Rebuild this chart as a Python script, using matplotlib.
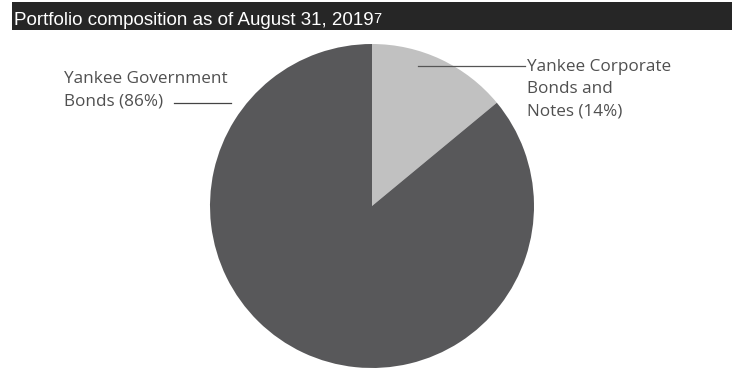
import matplotlib
matplotlib.use("Agg")
import matplotlib.pyplot as plt

title = "Portfolio composition as of August 31, 2019"
footnote = "7"
labels = ["Yankee Corporate\nBonds and\nNotes (14%)", "Yankee Government\nBonds (86%)"]
values = [14, 86]
colors = ["#c1c1c1", "#58585a"]

W, H = 732, 370
fig = plt.figure(figsize=(W / 100, H / 100), dpi=100)
fig.patch.set_facecolor("white")

# title bar
bar = fig.add_axes([12 / W, 1 - 30 / H, 1 - 12 / W, 28 / H])
bar.set_facecolor("#262626")
bar.set_xticks([]); bar.set_yticks([])
for s in bar.spines.values():
    s.set_visible(False)
t = fig.text(13.5 / W, 1 - 25 / H, title, color="white", fontsize=13.5, family="Liberation Sans",
             va="baseline", ha="left")
fig.canvas.draw()
bb = t.get_window_extent()
fig.text(bb.x1 / W + 0.5 / W, 1 - 23 / H, footnote, color="white", fontsize=10.5,
         family="Liberation Sans", va="baseline", ha="left")

# pie
cx, cy, r = 372, 206, 162
ax = fig.add_axes([(cx - r) / W, (H - cy - r) / H, 2 * r / W, 2 * r / H])
ax.pie(values, colors=colors, startangle=90, counterclock=False, radius=1,
       wedgeprops=dict(linewidth=0))
ax.set_xlim(-1, 1); ax.set_ylim(-1, 1)
ax.set_aspect("equal")
ax.axis("off")

def px(x, y):
    return x / W, 1 - y / H

lab_kw = dict(color="#505050", fontsize=12.3, family="Open Sans")
# right label
fig.text(*px(527, 59), labels[0], va="top", ha="left", linespacing=1.5, **lab_kw)
fig.add_artist(plt.Line2D([418 / W, 525 / W], [1 - 65.5 / H, 1 - 65.5 / H], color="#555555", lw=0.9))
# left label
fig.text(*px(64, 71), labels[1], va="top", ha="left", linespacing=1.5, **lab_kw)
fig.add_artist(plt.Line2D([174 / W, 231 / W], [1 - 103 / H, 1 - 103 / H], color="#444444", lw=0.9))

fig.savefig("out.png", dpi=100)
